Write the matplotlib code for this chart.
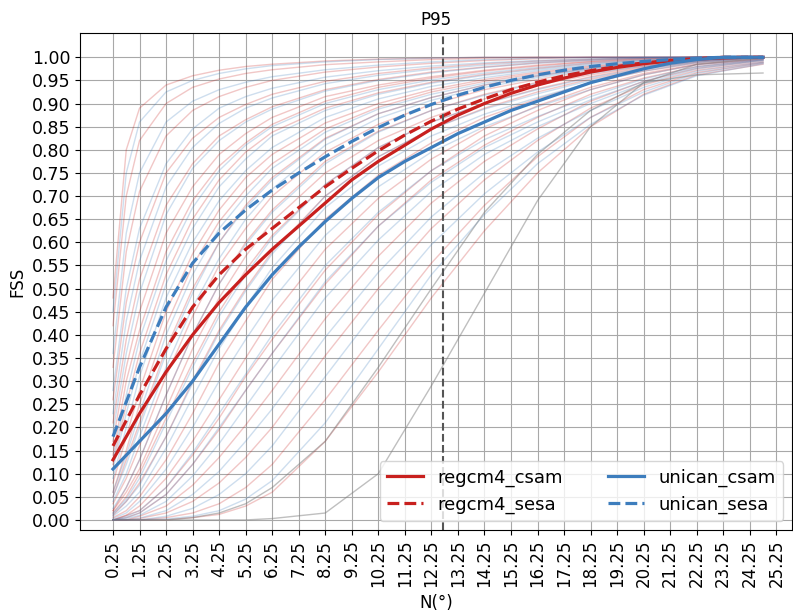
import numpy as np
import matplotlib
matplotlib.use('Agg')
import matplotlib.pyplot as plt

# x positions (degrees) of the mean FSS curves
n_deg = [0.25, 1.25, 2.25, 3.25, 4.25, 5.25, 6.25, 7.25, 8.25, 9.25, 10.25, 11.25, 12.25,
         13.25, 14.25, 15.25, 16.25, 17.25, 18.25, 19.25, 20.25, 21.25, 22.25, 23.25, 24.25, 24.75]

regcm4_csam = [0.13, 0.23, 0.32, 0.40, 0.47, 0.53, 0.585, 0.635, 0.685, 0.735, 0.775, 0.81, 0.845,
               0.875, 0.90, 0.922, 0.94, 0.955, 0.968, 0.978, 0.986, 0.992, 0.996, 0.999, 1.0, 1.0]
regcm4_sesa = [0.16, 0.27, 0.37, 0.46, 0.53, 0.585, 0.63, 0.675, 0.72, 0.76, 0.798, 0.832, 0.862,
               0.888, 0.91, 0.93, 0.946, 0.96, 0.971, 0.98, 0.988, 0.993, 0.997, 1.0, 1.0, 1.0]
unican_csam = [0.11, 0.17, 0.23, 0.30, 0.38, 0.46, 0.53, 0.59, 0.645, 0.695, 0.74, 0.775, 0.805,
               0.835, 0.86, 0.885, 0.905, 0.925, 0.945, 0.96, 0.975, 0.987, 0.995, 1.0, 1.0, 1.0]
unican_sesa = [0.18, 0.33, 0.46, 0.555, 0.62, 0.67, 0.713, 0.75, 0.785, 0.818, 0.848, 0.875, 0.898,
               0.918, 0.935, 0.95, 0.962, 0.972, 0.98, 0.986, 0.991, 0.995, 0.998, 1.0, 1.0, 1.0]

# individual member curves (thin lines), sampled coarser
n_thin = [0.25, 0.75, 1.25, 2.25, 3.25, 4.25, 5.25, 6.25, 8.25, 10.25, 12.25, 14.25, 16.25,
          18.25, 20.25, 22.25, 24.75]

red_members = [
    [0.48, 0.80, 0.89, 0.94, 0.96, 0.972, 0.98, 0.985, 0.992, 0.996, 0.998, 1, 1, 1, 1, 1, 1],
    [0.42, 0.70, 0.82, 0.90, 0.935, 0.953, 0.965, 0.973, 0.984, 0.99, 0.995, 0.998, 1, 1, 1, 1, 1],
    [0.33, 0.58, 0.71, 0.83, 0.885, 0.915, 0.935, 0.95, 0.968, 0.979, 0.987, 0.993, 0.997, 1, 1, 1, 1],
    [0.26, 0.47, 0.60, 0.75, 0.825, 0.87, 0.898, 0.92, 0.948, 0.965, 0.977, 0.986, 0.992, 0.996, 0.999, 1, 1],
    [0.21, 0.39, 0.52, 0.68, 0.77, 0.83, 0.865, 0.893, 0.93, 0.952, 0.968, 0.979, 0.988, 0.994, 0.998, 1, 1],
    [0.17, 0.33, 0.45, 0.62, 0.72, 0.79, 0.835, 0.87, 0.915, 0.94, 0.958, 0.972, 0.983, 0.991, 0.997, 1, 1],
    [0.12, 0.25, 0.36, 0.53, 0.65, 0.735, 0.795, 0.838, 0.89, 0.923, 0.946, 0.963, 0.976, 0.987, 0.994, 0.998, 1],
    [0.08, 0.18, 0.28, 0.45, 0.575, 0.67, 0.74, 0.79, 0.858, 0.90, 0.93, 0.952, 0.968, 0.981, 0.99, 0.997, 1],
    [0.05, 0.13, 0.21, 0.37, 0.50, 0.60, 0.68, 0.74, 0.825, 0.878, 0.913, 0.94, 0.96, 0.976, 0.988, 0.996, 1],
    [0.035, 0.09, 0.16, 0.31, 0.44, 0.55, 0.63, 0.70, 0.795, 0.855, 0.898, 0.93, 0.952, 0.971, 0.985, 0.995, 1],
    [0.02, 0.06, 0.11, 0.24, 0.37, 0.48, 0.57, 0.645, 0.75, 0.82, 0.87, 0.91, 0.94, 0.962, 0.98, 0.993, 1],
    [0.01, 0.04, 0.08, 0.18, 0.30, 0.41, 0.50, 0.58, 0.70, 0.785, 0.845, 0.89, 0.925, 0.953, 0.975, 0.99, 1],
    [0.005, 0.02, 0.05, 0.13, 0.23, 0.34, 0.43, 0.52, 0.65, 0.745, 0.815, 0.87, 0.91, 0.945, 0.97, 0.988, 0.998],
    [0.0, 0.01, 0.03, 0.09, 0.17, 0.26, 0.35, 0.44, 0.585, 0.695, 0.78, 0.845, 0.895, 0.935, 0.965, 0.985, 0.997],
    [0.0, 0.005, 0.015, 0.055, 0.12, 0.195, 0.28, 0.36, 0.51, 0.635, 0.735, 0.81, 0.87, 0.92, 0.955, 0.98, 0.995],
    [0.0, 0.0, 0.008, 0.03, 0.075, 0.135, 0.205, 0.28, 0.435, 0.57, 0.685, 0.775, 0.845, 0.905, 0.948, 0.976, 0.993],
    [0.0, 0.0, 0.003, 0.015, 0.04, 0.08, 0.135, 0.20, 0.355, 0.50, 0.63, 0.735, 0.82, 0.89, 0.94, 0.972, 0.99],
    [0.0, 0.0, 0.0, 0.005, 0.015, 0.035, 0.07, 0.12, 0.26, 0.41, 0.555, 0.68, 0.785, 0.87, 0.93, 0.967, 0.988],
    [0.0, 0.0, 0.0, 0.0, 0.005, 0.012, 0.03, 0.06, 0.17, 0.32, 0.48, 0.625, 0.75, 0.85, 0.92, 0.962, 0.985],
    [0.14, 0.30, 0.41, 0.58, 0.69, 0.765, 0.815, 0.855, 0.905, 0.935, 0.955, 0.97, 0.981, 0.99, 0.996, 1, 1],
    [0.06, 0.15, 0.25, 0.42, 0.55, 0.645, 0.715, 0.77, 0.845, 0.892, 0.925, 0.948, 0.965, 0.979, 0.989, 0.996, 1],
    [0.015, 0.05, 0.10, 0.22, 0.34, 0.45, 0.54, 0.615, 0.725, 0.805, 0.86, 0.90, 0.932, 0.958, 0.978, 0.992, 1],
    [0.0, 0.01, 0.02, 0.07, 0.14, 0.22, 0.31, 0.39, 0.54, 0.66, 0.755, 0.83, 0.885, 0.93, 0.962, 0.984, 0.996],
    [0.02, 0.07, 0.13, 0.27, 0.40, 0.51, 0.60, 0.67, 0.775, 0.84, 0.885, 0.92, 0.946, 0.967, 0.982, 0.994, 1],
]

blue_members = [
    [0.45, 0.75, 0.86, 0.925, 0.95, 0.965, 0.975, 0.982, 0.99, 0.995, 0.998, 1, 1, 1, 1, 1, 1],
    [0.36, 0.62, 0.75, 0.86, 0.905, 0.93, 0.946, 0.958, 0.973, 0.983, 0.99, 0.995, 0.998, 1, 1, 1, 1],
    [0.28, 0.50, 0.63, 0.77, 0.845, 0.89, 0.915, 0.933, 0.957, 0.971, 0.981, 0.988, 0.993, 0.997, 1, 1, 1],
    [0.19, 0.36, 0.49, 0.66, 0.76, 0.82, 0.86, 0.888, 0.927, 0.95, 0.966, 0.978, 0.987, 0.993, 0.998, 1, 1],
    [0.13, 0.27, 0.39, 0.56, 0.675, 0.755, 0.81, 0.85, 0.90, 0.93, 0.951, 0.966, 0.978, 0.988, 0.995, 0.999, 1],
    [0.09, 0.20, 0.31, 0.48, 0.60, 0.69, 0.755, 0.805, 0.87, 0.91, 0.937, 0.956, 0.971, 0.983, 0.992, 0.998, 1],
    [0.06, 0.14, 0.23, 0.40, 0.53, 0.63, 0.70, 0.76, 0.838, 0.888, 0.92, 0.944, 0.962, 0.977, 0.988, 0.996, 1],
    [0.04, 0.10, 0.18, 0.33, 0.46, 0.565, 0.65, 0.715, 0.81, 0.868, 0.907, 0.935, 0.956, 0.973, 0.986, 0.995, 1],
    [0.025, 0.07, 0.13, 0.27, 0.40, 0.51, 0.595, 0.665, 0.77, 0.838, 0.885, 0.918, 0.944, 0.965, 0.981, 0.993, 1],
    [0.015, 0.045, 0.09, 0.21, 0.33, 0.44, 0.53, 0.61, 0.725, 0.805, 0.86, 0.90, 0.93, 0.956, 0.976, 0.991, 1],
    [0.008, 0.03, 0.06, 0.155, 0.265, 0.37, 0.46, 0.545, 0.675, 0.765, 0.83, 0.877, 0.913, 0.945, 0.97, 0.988, 0.998],
    [0.003, 0.015, 0.04, 0.11, 0.20, 0.30, 0.39, 0.475, 0.615, 0.72, 0.795, 0.85, 0.893, 0.93, 0.962, 0.984, 0.996],
    [0.0, 0.008, 0.02, 0.07, 0.145, 0.23, 0.315, 0.40, 0.55, 0.665, 0.755, 0.822, 0.872, 0.915, 0.953, 0.98, 0.995],
    [0.0, 0.003, 0.01, 0.04, 0.095, 0.165, 0.245, 0.325, 0.48, 0.605, 0.71, 0.79, 0.85, 0.90, 0.943, 0.975, 0.993],
    [0.0, 0.0, 0.004, 0.02, 0.055, 0.105, 0.17, 0.24, 0.395, 0.535, 0.655, 0.75, 0.825, 0.885, 0.935, 0.97, 0.99],
    [0.0, 0.0, 0.0, 0.008, 0.025, 0.055, 0.10, 0.16, 0.31, 0.46, 0.595, 0.705, 0.795, 0.87, 0.925, 0.965, 0.988],
    [0.0, 0.0, 0.0, 0.002, 0.008, 0.02, 0.045, 0.085, 0.21, 0.37, 0.53, 0.66, 0.77, 0.855, 0.918, 0.96, 0.986],
    [0.23, 0.43, 0.56, 0.72, 0.805, 0.857, 0.89, 0.912, 0.943, 0.961, 0.974, 0.983, 0.99, 0.995, 0.999, 1, 1],
    [0.11, 0.23, 0.34, 0.51, 0.63, 0.72, 0.78, 0.83, 0.885, 0.92, 0.944, 0.961, 0.974, 0.985, 0.993, 0.998, 1],
    [0.05, 0.12, 0.20, 0.36, 0.49, 0.60, 0.675, 0.735, 0.823, 0.878, 0.913, 0.94, 0.959, 0.975, 0.987, 0.995, 1],
    [0.012, 0.04, 0.075, 0.18, 0.295, 0.405, 0.495, 0.575, 0.70, 0.785, 0.845, 0.888, 0.921, 0.95, 0.973, 0.99, 0.999],
    [0.0, 0.005, 0.015, 0.055, 0.12, 0.20, 0.28, 0.36, 0.515, 0.635, 0.73, 0.805, 0.86, 0.908, 0.948, 0.978, 0.994],
]

# slowest members, drawn in grey
grey_members = [
    [0.0, 0.0, 0.0, 0.0, 0.0, 0.0, 0.0, 0.003, 0.015, 0.10, 0.29, 0.49, 0.69, 0.85, 0.945, 0.985, 0.998],
    [0.0, 0.0, 0.0, 0.0, 0.005, 0.015, 0.035, 0.07, 0.17, 0.33, 0.50, 0.665, 0.79, 0.885, 0.945, 0.962, 0.966],
]

p95 = 12.7

red = '#c8201e'
blue = '#3d7dbd'

fig = plt.figure(figsize=(7.93, 6.15), dpi=100)
ax = fig.add_axes([0.101, 0.138, 0.898, 0.808])

for m in red_members:
    ax.plot(n_thin, m, color=red, alpha=0.25, lw=1)
for m in blue_members:
    ax.plot(n_thin, m, color=blue, alpha=0.25, lw=1)
for m in grey_members:
    ax.plot(n_thin, m, color='grey', alpha=0.5, lw=1)

ax.plot(n_deg, regcm4_csam, color=red, lw=2.3, label='regcm4_csam')
ax.plot(n_deg, regcm4_sesa, color=red, lw=2.3, ls='--', label='regcm4_sesa')
ax.plot(n_deg, unican_csam, color=blue, lw=2.3, label='unican_csam')
ax.plot(n_deg, unican_sesa, color=blue, lw=2.3, ls='--', label='unican_sesa')

ax.axvline(p95, color='#555555', ls='--', lw=1.5)

ax.set_xticks(np.arange(0.25, 25.26, 1))
ax.set_xticklabels(['%.2f' % v for v in np.arange(0.25, 25.26, 1)], rotation=90, fontsize=12)
ax.set_yticks(np.arange(0, 1.001, 0.05))
ax.set_yticklabels(['%.2f' % v for v in np.arange(0, 1.001, 0.05)], fontsize=12.5)
ax.set_xlim(-0.99, 25.85)
ax.set_ylim(-0.022, 1.052)
ax.grid(True, color='#a8a8a8', lw=0.8)

ax.set_title('P95', fontsize=12)
ax.set_xlabel('N(°)', fontsize=12, labelpad=5)
ax.set_ylabel('FSS', fontsize=12)
ax.legend(loc='lower right', ncol=2, fontsize=13, columnspacing=2.5)

fig.savefig('out.png', dpi=100)
